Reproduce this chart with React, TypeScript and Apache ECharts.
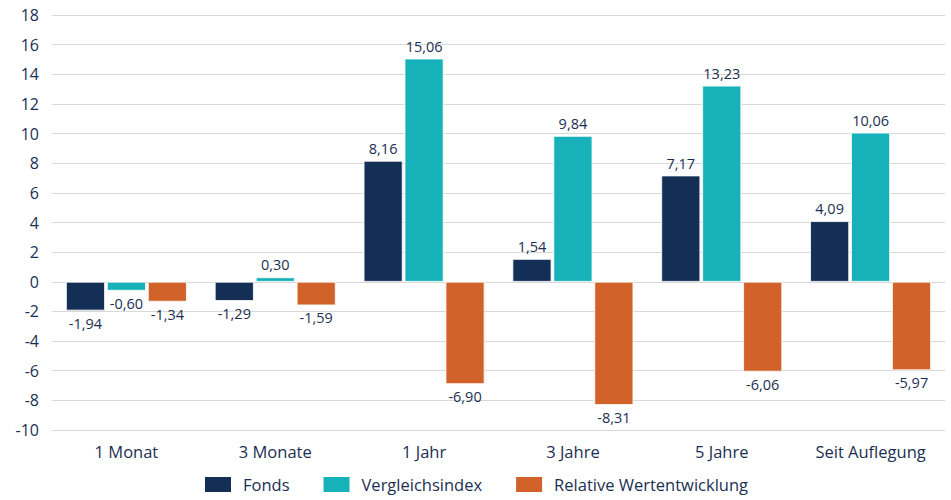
import React, { useEffect, useRef } from "react";
import * as echarts from "echarts";

const categories = ["1 Monat", "3 Monate", "1 Jahr", "3 Jahre", "5 Jahre", "Seit Auflegung"];
const fonds = [-1.94, -1.29, 8.16, 1.54, 7.17, 4.09];
const vergleich = [-0.6, 0.3, 15.06, 9.84, 13.23, 10.06];
const relativ = [-1.34, -1.59, -6.9, -8.31, -6.06, -5.97];
const seriesNames = ["Fonds", "Vergleichsindex", "Relative Wertentwicklung"];
const colors = ["#142f55", "#17b1b9", "#d0622a"];

const TEXT = "#1b2f52";
const FONT = "Open Sans";
const WEIGHT = 500;

export default function App() {
  const ref = useRef<HTMLDivElement>(null);
  useEffect(() => {
    if (!ref.current) return;
    const chart = echarts.init(ref.current, undefined, { renderer: "svg" });
    const mk = (name: string, data: number[], color: string) => ({
      name,
      type: "bar",
      data,
      barWidth: 39,
      barGap: "5%",
      itemStyle: { color, borderColor: "#ffffff", borderWidth: 0.8 },
      label: {
        show: true,
        position: "outside",
        distance: 5,
        color: TEXT,
        fontFamily: FONT,
        fontWeight: WEIGHT,
        fontSize: 14.5,
        formatter: (p: any) => p.value.toFixed(2).replace(".", ","),
      },
    });
    chart.setOption({
      animation: false,
      textStyle: { fontFamily: FONT },
      grid: { left: 52, right: 6, top: 15, bottom: 70, containLabel: false },
      legend: {
        bottom: 1,
        left: "center",
        itemWidth: 28,
        itemHeight: 17,
        itemGap: 32,
        icon: "rect",
        textStyle: {
          color: TEXT,
          fontFamily: FONT,
          fontWeight: WEIGHT,
          fontSize: 16.5,
          padding: [0, 0, 0, 6],
        },
        data: seriesNames,
      },
      xAxis: {
        type: "category",
        data: categories,
        axisLine: { show: false },
        axisTick: { show: false },
        axisLabel: { color: TEXT, fontFamily: FONT, fontWeight: WEIGHT, fontSize: 16.5, margin: 13 },
      },
      yAxis: {
        type: "value",
        min: -10,
        max: 18,
        interval: 2,
        axisLine: { show: false },
        axisTick: { show: false },
        axisLabel: { color: TEXT, fontFamily: FONT, fontWeight: WEIGHT, fontSize: 16, margin: 13 },
        splitLine: { lineStyle: { color: "#d9d9d9", width: 1 } },
      },
      series: [
        mk(seriesNames[0], fonds, colors[0]),
        mk(seriesNames[1], vergleich, colors[1]),
        mk(seriesNames[2], relativ, colors[2]),
      ],
    });
    return () => chart.dispose();
  }, []);
  return (
    <div
      ref={ref}
      style={{ position: "fixed", left: 0, top: 0, width: 951, height: 500, background: "#fff" }}
    />
  );
}
